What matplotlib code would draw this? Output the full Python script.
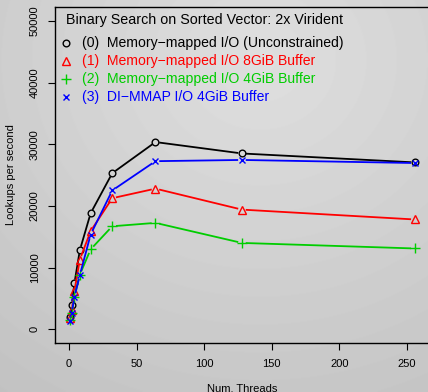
import numpy as np
import matplotlib
matplotlib.use("Agg")
import matplotlib.pyplot as plt

plt.rcParams['font.family'] = ['Liberation Sans', 'DejaVu Sans']

threads = [1, 2, 4, 8, 16, 32, 64, 128, 256]
mmap_unconstrained = [1950, 3900, 7450, 12800, 18800, 25300, 30350, 28500, 27050]
mmap_8gib = [1780, 3100, 6200, 11300, 15900, 21250, 22800, 19400, 17800]
mmap_4gib = [1450, 2650, 5250, 8850, 12950, 16700, 17250, 14000, 13100]
dimmap_4gib = [1300, 2650, 5250, 8750, 15350, 22500, 27250, 27450, 26950]

series = [
    ("(0)  Memory\u2212mapped I/O (Unconstrained)", mmap_unconstrained, "black", "o"),
    ("(1)  Memory\u2212mapped I/O 8GiB Buffer", mmap_8gib, "#ff0000", "^"),
    ("(2)  Memory\u2212mapped I/O 4GiB Buffer", mmap_4gib, "#00cd00", "+"),
    ("(3)  DI\u2212MMAP I/O 4GiB Buffer", dimmap_4gib, "#0000ff", "x"),
]
title = "Binary Search on Sorted Vector: 2x Virident"
xticks = [0, 50, 100, 150, 200, 250]
yticks = [0, 10000, 20000, 30000, 40000, 50000]

MS = {"o": 4.8, "^": 5.5, "+": 6.5, "x": 5.0}

W, H = 428, 392
fig = plt.figure(figsize=(W / 100, H / 100), dpi=100)

# gradient background
bg = fig.add_axes([0, 0, 1, 1], zorder=-10)
yy, xx = np.mgrid[0:H, 0:W]
d = np.sqrt(((xx - 260) / W) ** 2 + ((yy - 60) / H) ** 2)
img = 0.875 - 0.11 * d
bg.imshow(img, cmap="gray", vmin=0, vmax=1, aspect="auto", extent=[0, 1, 0, 1])
bg.axis("off")

left, right, top, bottom = 55, 430, 6.7, 343.3
ax = fig.add_axes([left / W, 1 - bottom / H, (right - left) / W, (bottom - top) / H])
ax.patch.set_alpha(0)
x0 = -10.36
x1 = x0 + (right - left) / 1.351
ax.set_xlim(x0, x1)
ax.set_ylim(-2270, 52290)

for sp in ax.spines.values():
    sp.set_linewidth(1.0)
    sp.set_color("black")

ax.set_xticks(xticks)
ax.set_yticks(yticks)
ax.tick_params(axis="both", length=5, width=0.8, labelsize=8, colors="black", pad=6)
ax.tick_params(axis="y", labelrotation=90)
for lab in ax.get_yticklabels():
    lab.set_verticalalignment("center")
ax.set_xlabel("Num. Threads", fontsize=8, labelpad=11)
ax.set_ylabel("Lookups per second", fontsize=8, labelpad=10)

fig.canvas.draw()
gap = 3.8  # px gap between line and marker
for name, vals, color, mk in series:
    pts = ax.transData.transform(np.column_stack([threads, vals]))
    for i in range(len(pts) - 1):
        p, q = pts[i], pts[i + 1]
        v = q - p
        L = np.hypot(*v)
        if L <= 2 * gap:
            continue
        u = v / L
        a = p + u * gap
        b = q - u * gap
        da = ax.transData.inverted().transform([a, b])
        ax.plot(da[:, 0], da[:, 1], color=color, lw=1.3, solid_capstyle="butt")
    ax.plot(threads, vals, linestyle="none", marker=mk, color=color,
            markerfacecolor="none", markeredgecolor=color, markersize=MS[mk],
            markeredgewidth=1.0)

# legend (no box)
fig.text(66 / W, 1 - 20 / H, title, fontsize=10.3, va="center", ha="left")
rows = [43, 61, 79, 97]
for (name, vals, color, mk), ry in zip(series, rows):
    fig.text(82 / W, 1 - ry / H, name, fontsize=10.1, va="center", ha="left", color=color)
    ax.plot([(66.5 - left) / (right - left)], [(bottom - ry) / (bottom - top)],
            transform=ax.transAxes, marker=mk, linestyle="none", color=color,
            markerfacecolor="none", markersize=MS[mk],
            markeredgewidth=1.0, clip_on=False)

fig.savefig("out.png", dpi=100)
